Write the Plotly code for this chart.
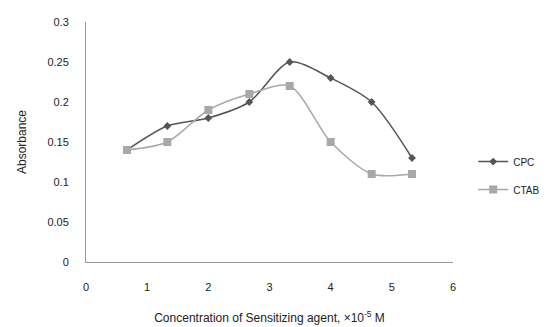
import plotly.graph_objects as go

x_vals = [0.67, 1.33, 2.0, 2.67, 3.33, 4.0, 4.67, 5.33]
cpc = [0.14, 0.17, 0.18, 0.20, 0.25, 0.23, 0.20, 0.13]
ctab = [0.14, 0.15, 0.19, 0.21, 0.22, 0.15, 0.11, 0.11]
x_ticks = [0, 1, 2, 3, 4, 5, 6]
y_ticks = [0, 0.05, 0.1, 0.15, 0.2, 0.25, 0.3]
y_tick_text = ["0", "0.05", "0.1", "0.15", "0.2", "0.25", "0.3"]

font = "Liberation Sans"
fig = go.Figure()
fig.add_trace(go.Scatter(x=x_vals, y=cpc, name="CPC", mode="lines+markers", legendgroup="g1",
                         line=dict(color="#555555", width=1.5, shape="spline", smoothing=0.8),
                         marker=dict(symbol="diamond", size=6, color="#555555")))
fig.add_trace(go.Scatter(x=x_vals, y=ctab, name="CTAB", mode="lines+markers", legendgroup="g2",
                         line=dict(color="#a8a8a8", width=1.5, shape="spline", smoothing=0.8),
                         marker=dict(symbol="square", size=8, color="#a8a8a8")))

fig.update_layout(
    width=547, height=327,
    margin=dict(l=86, r=94, t=22, b=65, autoexpand=False),
    paper_bgcolor="white", plot_bgcolor="white",
    font=dict(family=font, size=10, color="#222222"),
    legend=dict(x=1.055, y=0.36, xanchor="left", yanchor="middle",
                font=dict(size=10), tracegroupgap=9, itemwidth=30),
    xaxis=dict(range=[0, 6], tickvals=x_ticks, showgrid=False, zeroline=False,
               showline=True, linecolor="#999999", linewidth=1, ticks="",
               ticklabelstandoff=15, tickfont=dict(size=11),
               title=dict(text="Concentration of Sensitizing agent, ×10<sup>-5</sup> M",
                          font=dict(size=12), standoff=21)),
    yaxis=dict(range=[0, 0.3], tickvals=y_ticks, ticktext=y_tick_text, showgrid=False,
               zeroline=False, showline=True, linecolor="#999999", linewidth=1, ticks="",
               ticklabelstandoff=14, tickfont=dict(size=11),
               title=dict(text="Absorbance", font=dict(size=12), standoff=18)),
)
fig.write_html("out.html")
